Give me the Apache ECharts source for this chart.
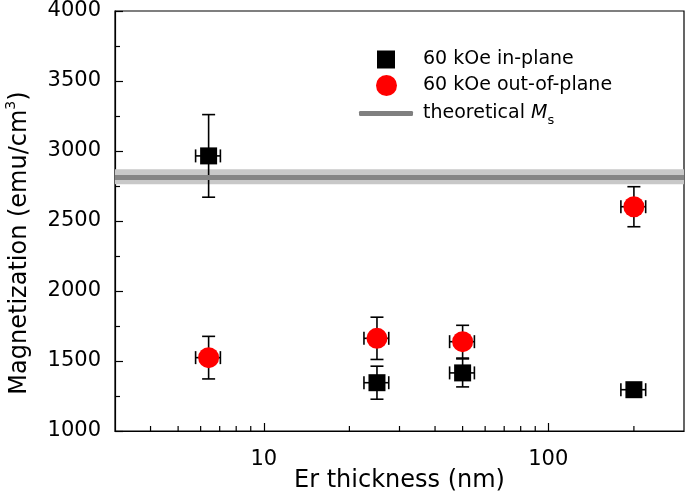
<!DOCTYPE html>
<html>
<head>
<meta charset="utf-8">
<script src="https://cdn.jsdelivr.net/npm/echarts@6/dist/echarts.min.js"></script>
<style>
  html, body { margin: 0; padding: 0; background: #fff; }
  #chart { width: 685px; height: 500px; }
</style>
</head>
<body>
<div id="chart"></div>
<script>
// ---- data ----
const thickness = [6.4, 25, 50, 200];            // Er thickness (nm)
const thicknessErr = [0.64, 2.5, 5, 20];         // horizontal error (nm)
const inPlane = [2965, 1345, 1415, 1295];        // 60 kOe in-plane (emu/cm3)
const inPlaneErr = [295, 118, 100, 28];
const outOfPlane = [1524, 1662, 1638, 2602];     // 60 kOe out-of-plane (emu/cm3)
const outOfPlaneErr = [152, 151, 117, 143];
const theoreticalMs = 2816;
const theoreticalMsErr = 54;
const xRange = [3, 300];
const xTickLabels = [10, 100];
const xMinorTicks = [4, 5, 6, 7, 8, 9, 20, 30, 40, 50, 60, 70, 80, 90, 200];
const yRange = [1000, 4000];
const yInterval = 500;

const FONT = 'DejaVu Sans';
const chart = echarts.init(document.getElementById('chart'), null, { renderer: 'canvas' });

function errRows(xs, xe, ys, ye) {
  return xs.map((x, i) => [x, ys[i], xe[i], ye[i]]);
}

function renderErr(params, api) {
  const x = api.value(0), y = api.value(1), ex = api.value(2), ey = api.value(3);
  const top = api.coord([x, y + ey]);
  const bot = api.coord([x, y - ey]);
  const lft = api.coord([x - ex, y]);
  const rgt = api.coord([x + ex, y]);
  const c = 6.5;
  const st = { stroke: '#000', lineWidth: 1.6, fill: null };
  return {
    type: 'group',
    children: [
      { type: 'line', shape: { x1: top[0], y1: top[1], x2: bot[0], y2: bot[1] }, style: st },
      { type: 'line', shape: { x1: top[0] - c, y1: top[1], x2: top[0] + c, y2: top[1] }, style: st },
      { type: 'line', shape: { x1: bot[0] - c, y1: bot[1], x2: bot[0] + c, y2: bot[1] }, style: st },
      { type: 'line', shape: { x1: lft[0], y1: lft[1], x2: rgt[0], y2: rgt[1] }, style: st },
      { type: 'line', shape: { x1: lft[0], y1: lft[1] - c, x2: lft[0], y2: lft[1] + c }, style: st },
      { type: 'line', shape: { x1: rgt[0], y1: rgt[1] - c, x2: rgt[0], y2: rgt[1] + c }, style: st }
    ]
  };
}

function renderMinorTick(params, api) {
  const p = api.coord([api.value(0), api.value(1)]);
  return {
    type: 'line',
    shape: { x1: p[0], y1: p[1], x2: p[0], y2: p[1] - 5 },
    style: { stroke: '#000', lineWidth: 1.2 }
  };
}

const legendBase = {
  orient: 'vertical',
  padding: 0,
  itemGap: 0,
  selectedMode: false,
  textStyle: { fontFamily: FONT, fontSize: 19, color: '#000' }
};

const option = {
  animation: false,
  backgroundColor: '#fff',
  grid: {
    left: 115, right: 1, top: 11, bottom: 69,
    containLabel: false,
    outerBoundsMode: 'none',
    show: true, borderColor: '#000', borderWidth: 1.2, backgroundColor: 'transparent'
  },
  xAxis: {
    type: 'log',
    logBase: 10,
    min: xRange[0],
    max: xRange[1],
    name: 'Er thickness (nm)',
    nameLocation: 'middle',
    nameGap: 38,
    nameMoveOverlap: false,
    nameTextStyle: { fontFamily: FONT, fontSize: 24, color: '#000' },
    axisLine: { lineStyle: { color: '#000', width: 1.2 } },
    axisTick: { inside: true, length: 8, lineStyle: { color: '#000', width: 1.2 } },
    minorTick: { show: false },
    splitLine: { show: false },
    axisLabel: {
      margin: 18,
      fontFamily: FONT, fontSize: 21, color: '#000',
      showMinLabel: false, showMaxLabel: false,
      formatter: function (v) {
        const r = Math.round(v);
        return (Math.abs(v - r) < 1e-6 && xTickLabels.indexOf(r) >= 0) ? String(r) : '';
      }
    }
  },
  yAxis: {
    type: 'value',
    min: yRange[0],
    max: yRange[1],
    interval: yInterval,
    name: '{a|Magnetization (emu/cm}{sup|3}{a|)}',
    nameLocation: 'middle',
    nameGap: 79,
    nameTextStyle: {
      padding: [0, 44, 0, 0],
      rich: {
        a: { fontFamily: FONT, fontSize: 24, color: '#000', lineHeight: 32 },
        sup: { fontFamily: FONT, fontSize: 14, color: '#000', verticalAlign: 'top', lineHeight: 14 }
      }
    },
    axisLine: { lineStyle: { color: '#000', width: 1.2 } },
    axisTick: { inside: true, length: 8, lineStyle: { color: '#000', width: 1.2 } },
    minorTick: { show: true, splitNumber: 2, length: 5, lineStyle: { color: '#000', width: 1.2 } },
    splitLine: { show: false },
    axisLabel: {
      margin: 14, fontFamily: FONT, fontSize: 21, color: '#000',
      formatter: v => String(v)
    }
  },
  legend: [
    Object.assign({}, legendBase, {
      left: 377, top: 50, itemWidth: 18, itemHeight: 18,
      data: [{ name: '60 kOe in-plane', icon: 'rect' }],
      formatter: n => '{sp| }{t|' + n + '}',
      textStyle: { fontFamily: FONT, fontSize: 19, color: '#000',
        rich: { sp: { width: 23 }, t: { fontFamily: FONT, fontSize: 19, color: '#000' } } }
    }),
    Object.assign({}, legendBase, {
      left: 376, top: 75, itemWidth: 21, itemHeight: 21,
      data: [{ name: '60 kOe out-of-plane', icon: 'circle' }],
      formatter: n => '{sp| }{t|' + n + '}',
      textStyle: { fontFamily: FONT, fontSize: 19, color: '#000',
        rich: { sp: { width: 21 }, t: { fontFamily: FONT, fontSize: 19, color: '#000' } } }
    }),
    Object.assign({}, legendBase, {
      left: 359, top: 104, itemWidth: 54, itemHeight: 5,
      data: [{ name: 'theoretical Ms', icon: 'roundRect' }],
      formatter: () => '{sp| }{t|theoretical }{i|M}{sub|s}',
      textStyle: { fontFamily: FONT, fontSize: 19, color: '#000',
        rich: {
          sp: { width: 5, lineHeight: 28 },
          t: { fontFamily: FONT, fontSize: 19, color: '#000', lineHeight: 28 },
          i: { fontFamily: FONT, fontSize: 19, color: '#000', fontStyle: 'italic', lineHeight: 28 },
          sub: { fontFamily: FONT, fontSize: 13, color: '#000', verticalAlign: 'bottom', lineHeight: 13 }
        } }
    })
  ],
  series: [
    {
      name: 'theoretical Ms',
      type: 'line',
      data: [],
      z: 1,
      itemStyle: { color: '#808080' },
      lineStyle: { color: '#808080', width: 5 },
      markArea: {
        silent: true,
        itemStyle: { color: '#c8c8c8' },
        data: [[{ yAxis: theoreticalMs - theoreticalMsErr }, { yAxis: theoreticalMs + theoreticalMsErr }]]
      },
      markLine: {
        silent: true,
        symbol: 'none',
        label: { show: false },
        lineStyle: { color: '#858585', width: 5, type: 'solid' },
        data: [{ yAxis: theoreticalMs }]
      }
    },
    {
      name: 'minor-ticks',
      type: 'custom',
      silent: true,
      z: 5,
      renderItem: renderMinorTick,
      encode: { x: 0, y: 1 },
      data: xMinorTicks.map(v => [v, yRange[0]])
    },
    {
      name: 'err-in',
      type: 'custom',
      silent: true,
      z: 2,
      renderItem: renderErr,
      encode: { x: 0, y: 1 },
      data: errRows(thickness, thicknessErr, inPlane, inPlaneErr)
    },
    {
      name: 'err-out',
      type: 'custom',
      silent: true,
      z: 2,
      renderItem: renderErr,
      encode: { x: 0, y: 1 },
      data: errRows(thickness, thicknessErr, outOfPlane, outOfPlaneErr)
    },
    {
      name: '60 kOe in-plane',
      type: 'scatter',
      symbol: 'rect',
      symbolSize: 17,
      z: 3,
      itemStyle: { color: '#000', opacity: 1 },
      data: thickness.map((x, i) => [x, inPlane[i]])
    },
    {
      name: '60 kOe out-of-plane',
      type: 'scatter',
      symbol: 'circle',
      symbolSize: 21,
      z: 3,
      itemStyle: { color: '#ff0000', opacity: 1 },
      data: thickness.map((x, i) => [x, outOfPlane[i]])
    }
  ]
};

chart.setOption(option);
</script>
</body>
</html>
